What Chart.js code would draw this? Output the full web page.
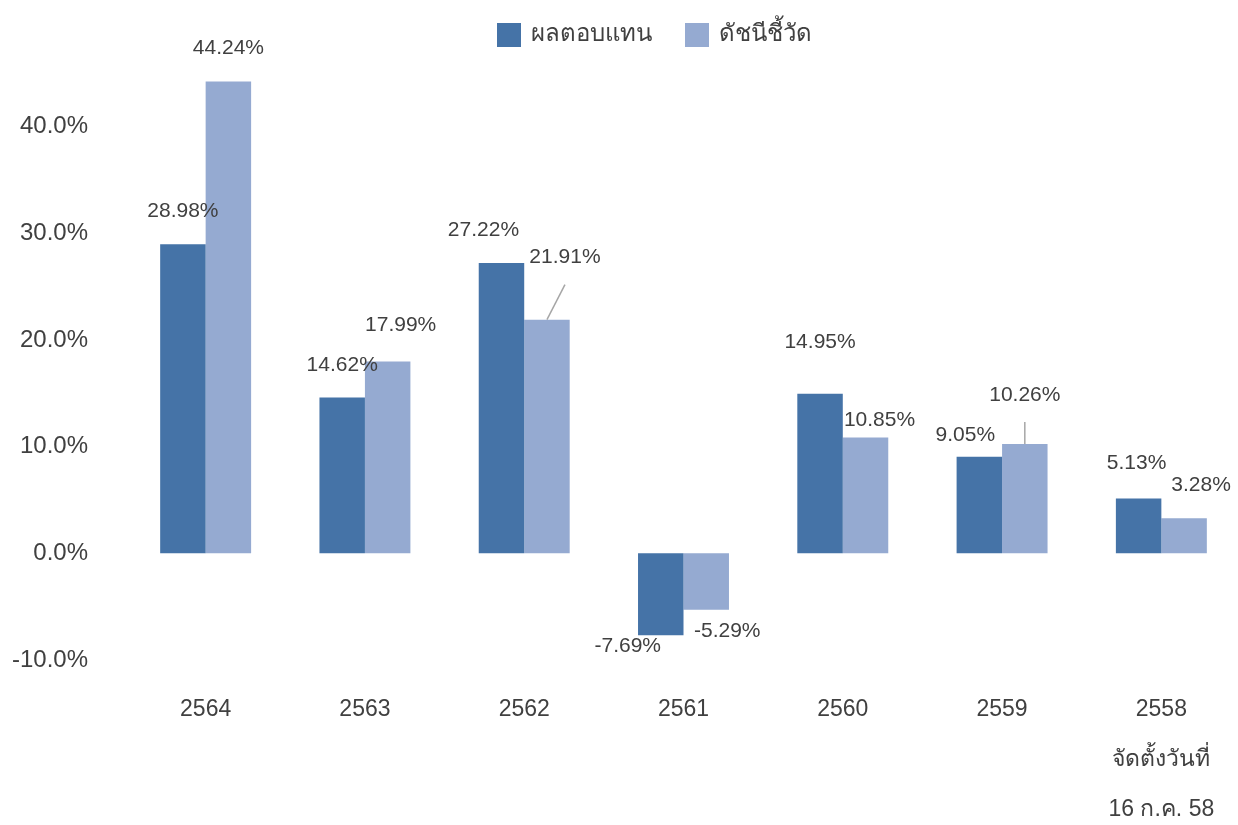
<!DOCTYPE html>
<html>
<head>
<meta charset="utf-8">
<script src="https://cdn.jsdelivr.net/npm/chart.js@4.4.1/dist/chart.umd.min.js"></script>
<style>
  html, body { margin: 0; padding: 0; background: #fff; overflow: hidden; }
  #wrap { width: 1238px; height: 825px; overflow: hidden; }
</style>
</head>
<body>
<div id="wrap"><canvas id="chart" width="1241" height="825"></canvas></div>
<script>
'use strict';

// ---- data ----
const years = ['2564', '2563', '2562', '2561', '2560', '2559', ['2558', 'จัดตั้งวันที่', '16 ก.ค. 58']];
const fundReturn = [28.98, 14.62, 27.22, -7.69, 14.95, 9.05, 5.13];
const benchmark  = [44.24, 17.99, 21.91, -5.29, 10.85, 10.26, 3.28];
const seriesNames = ['ผลตอบแทน', 'ดัชนีชี้วัด'];

// ---- style ----
const FONT = '"Liberation Sans", Arial, "Noto Sans", "DejaVu Sans", sans-serif';
const TEXT = '#404040';
const COLORS = ['#4573a7', '#95aad1'];

// label nudges [dx, dy] from bar end, px (Excel placed these by hand)
const labelNudge = [
  [[0, -33], [0, -32], [-18, -33], [-33, 11], [0, -52], [-14, -22], [-2, -35]],
  [[0, -33], [13, -36], [18, -62], [21, 21], [14, -17], [0, -49], [17, -33]]
];
const leaderLines = [[], [2, 5]];

// ---- plugins ----
const valueLabels = {
  id: 'valueLabels',
  afterDatasetsDraw(chart) {
    const ctx = chart.ctx;
    ctx.save();
    ctx.font = '21px ' + FONT;
    ctx.fillStyle = TEXT;
    ctx.textAlign = 'center';
    ctx.textBaseline = 'middle';
    chart.data.datasets.forEach((ds, di) => {
      chart.getDatasetMeta(di).data.forEach((bar, i) => {
        const [dx, dy] = labelNudge[di][i];
        const x = bar.x + dx;
        const y = bar.y + dy;
        if (leaderLines[di].includes(i)) {
          ctx.strokeStyle = '#a6a6a6';
          ctx.lineWidth = 1.5;
          ctx.beginPath();
          ctx.moveTo(bar.x, bar.y);
          ctx.lineTo(x, y + 27);
          ctx.stroke();
        }
        ctx.fillText(ds.data[i].toFixed(2) + '%', x, y);
      });
    });
    ctx.restore();
  }
};

const topLegend = {
  id: 'topLegend',
  afterDraw(chart) {
    const ctx = chart.ctx;
    ctx.save();
    ctx.font = '24px ' + FONT;
    ctx.textBaseline = 'middle';
    const box = 24, gap = 10, between = 33;
    let x = 497;
    seriesNames.forEach((name, i) => {
      ctx.fillStyle = COLORS[i];
      ctx.fillRect(x, 23, box, box);
      ctx.fillStyle = TEXT;
      ctx.fillText(name, x + box + gap, 34);
      x += box + gap + ctx.measureText(name).width + between;
    });
    ctx.restore();
  }
};

new Chart(document.getElementById('chart'), {
  type: 'bar',
  data: {
    labels: years,
    datasets: [
      { label: seriesNames[0], data: fundReturn, backgroundColor: COLORS[0] },
      { label: seriesNames[1], data: benchmark,  backgroundColor: COLORS[1] }
    ]
  },
  options: {
    responsive: false,
    animation: false,
    layout: { padding: { top: 20, right: 0, left: 0, bottom: 0 } },
    datasets: { bar: { categoryPercentage: 0.571, barPercentage: 1.0, borderWidth: 0 } },
    plugins: {
      legend: { display: false },
      tooltip: { enabled: false }
    },
    scales: {
      x: {
        grid: { display: false },
        border: { display: false },
        afterFit(axis) { axis.height = 165; axis.paddingLeft = 0; axis.paddingRight = 0; },
        ticks: {
          padding: 17,
          color: TEXT,
          font: { family: FONT, size: 23, lineHeight: '50px' },
          maxRotation: 0,
          autoSkip: false
        }
      },
      y: {
        min: -10,
        max: 50,
        grid: { display: false },
        border: { display: false },
        afterFit(axis) { axis.width = 126; axis.paddingTop = 0; axis.paddingBottom = 0; },
        ticks: {
          stepSize: 10,
          padding: 30,
          color: TEXT,
          font: { family: FONT, size: 24 },
          callback: v => (v >= 50 ? '' : v.toFixed(1) + '%')
        }
      }
    }
  },
  plugins: [valueLabels, topLegend]
});
</script>
</body>
</html>
